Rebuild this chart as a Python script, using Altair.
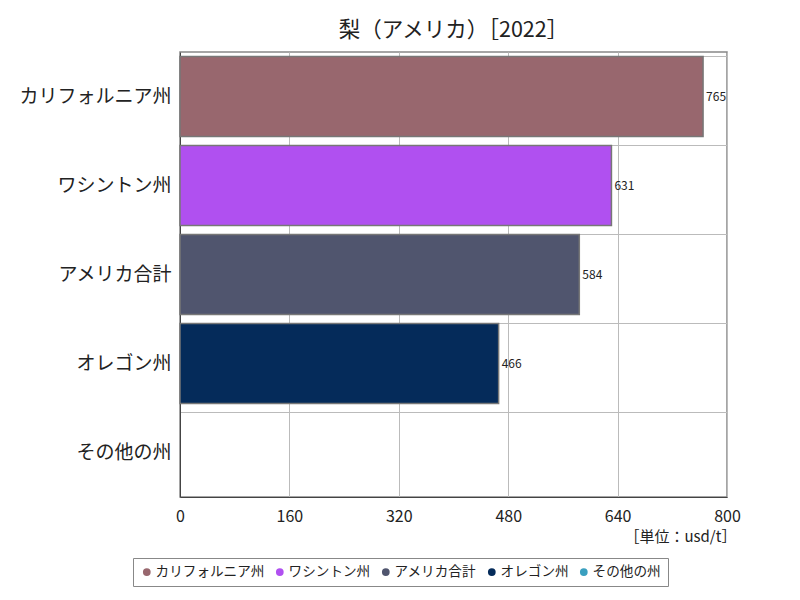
import altair as alt
import pandas as pd

categories = ["カリフォルニア州", "ワシントン州", "アメリカ合計", "オレゴン州", "その他の州"]
values = [765, 631, 584, 466, None]
colors = ["#98676e", "#b050f0", "#50556e", "#052b5a", "#3a9fbf"]
x_ticks = [0, 160, 320, 480, 640, 800]

df = pd.DataFrame({"region": categories, "value": values})
FONT = "Noto Sans CJK JP"

color_scale = alt.Scale(domain=categories, range=colors)
ysc = alt.Scale(domain=categories, paddingInner=0.1, paddingOuter=0.05)

bars = alt.Chart(df).mark_bar(stroke="#777777", strokeWidth=1.5).encode(
    x=alt.X("value:Q", scale=alt.Scale(domain=[0, 800], nice=False),
            axis=alt.Axis(values=x_ticks, title="［単位：usd/t］", titleAnchor="end",
                          titleX=556, titleAlign="right",
                          titleFontWeight="normal", titleFontSize=15, titlePadding=5,
                          labelFontSize=16, labelFlush=False, labelPadding=11,
                          ticks=False, grid=True, gridColor="#bbbbbb",
                          domainColor="#444444", labelColor="#222222", titleColor="#222222")),
    y=alt.Y("region:N", scale=ysc, sort=categories,
            axis=alt.Axis(title=None, labelFontSize=19, ticks=False, grid=True,
                          gridColor="#bbbbbb", bandPosition=0, labelPadding=9,
                          domainColor="#444444", labelColor="#222222")),
    color=alt.Color("region:N", scale=color_scale, sort=categories,
                    legend=alt.Legend(title=None, orient="none", direction="horizontal",
                                      legendX=-47, legendY=506, symbolType="circle",
                                      symbolSize=60, labelFontSize=13.6, columnPadding=8,
                                      symbolStrokeWidth=0, strokeColor="#888888",
                                      padding=7, labelColor="#222222", labelOffset=2)),
)

labels = alt.Chart(df).mark_text(align="left", baseline="middle", dx=3, fontSize=12,
                                 font=FONT, color="#222222").encode(
    x=alt.X("value:Q"),
    y=alt.Y("region:N", sort=categories),
    text=alt.Text("value:Q"),
)

chart = alt.layer(bars, labels).properties(
    width=547, height=445,
    title=alt.TitleParams("梨（アメリカ）［2022］", fontSize=21.5, fontWeight="normal",
                          anchor="middle", offset=11, color="#222222"),
    autosize=alt.AutoSizeParams(type="none"),
    padding={"left": 172, "top": 44, "right": 65, "bottom": 95},
).configure(font=FONT).configure_view(stroke="#888888", strokeWidth=1.5)

chart.save("out.html", embed_options={"renderer": "svg", "actions": False})
